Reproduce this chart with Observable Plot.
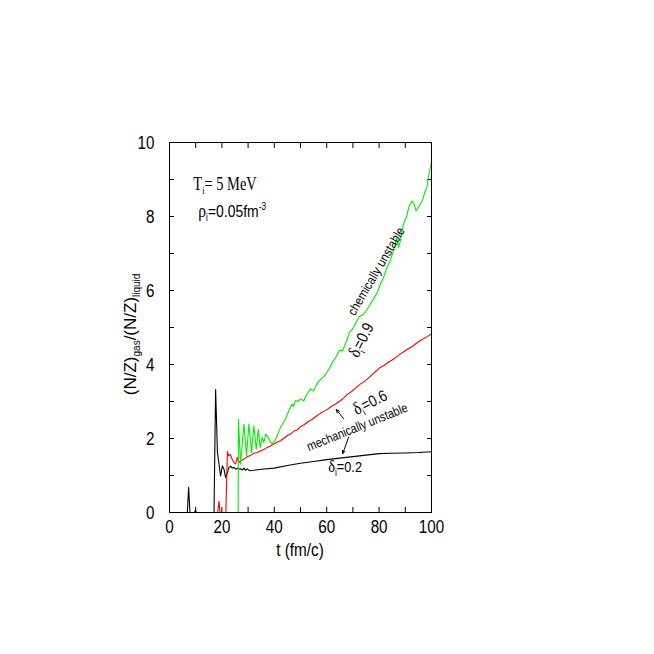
<!DOCTYPE html>
<html>
<head>
<meta charset="utf-8">
<script src="https://cdn.jsdelivr.net/npm/d3@7"></script>
<script src="https://cdn.jsdelivr.net/npm/@observablehq/plot@0.6"></script>
<style>
  body { margin: 0; background: #fff; }
  svg { display: block; }
</style>
</head>
<body>
<div id="chart"></div>
<script>
// ---- data ----
const blackT = [0, 6.8, 7.3, 7.8, 9.6, 9.9, 10.2, 17.0, 17.6, 18.3,
  18.9, 19.5, 20.2, 20.8, 21.4, 22.1, 22.7, 23.3, 24.0, 24.6,
  25.3, 26.0, 26.6, 27.1, 27.8, 28.4, 29.0, 29.7, 30.5, 32,
  35, 40, 45, 50, 55, 60, 65, 70, 75, 80,
  85, 90, 95, 100];
const blackV = [0, 0, 0.68, 0, 0, 0.06, 0, 0, 3.32, 1.62,
  1.31, 0.99, 1.26, 1.17, 0.95, 1.08, 1.22, 1.25, 1.2, 1.22,
  1.17, 1.2, 1.17, 1.18, 1.15, 1.2, 1.14, 1.18, 1.13, 1.14,
  1.17, 1.2, 1.27, 1.33, 1.38, 1.43, 1.47, 1.51, 1.55, 1.59,
  1.6, 1.61, 1.62, 1.64];

const redT = [0, 18.4, 18.9, 19.3, 19.6, 21.5, 22.1, 22.6, 23.2, 23.9,
  24.6, 25.2, 25.9, 26.5, 27.1, 27.8, 28.6, 29.7, 31, 32.2,
  33.5, 34.7, 36, 37.3, 38.5, 39.8, 41, 42.3, 43.5, 45,
  46.2, 47.5, 48.7, 50, 51.5, 53, 54.5, 56, 57.6, 59,
  60.5, 62, 63.5, 65.2, 66.5, 68, 69.5, 71, 72.8, 74.5,
  76, 77.5, 79, 80.4, 82, 83.5, 85, 86.5, 88, 89.5,
  91, 92.5, 94, 95.6, 97, 98.5, 100];
const redV = [0, 0, 0.3, 0, 0, 0, 1.65, 1.53, 1.57, 1.44,
  1.35, 1.31, 1.49, 1.35, 1.40, 1.42, 1.45, 1.51, 1.55, 1.6,
  1.62, 1.66, 1.7, 1.76, 1.8, 1.85, 1.9, 1.94, 2.0, 2.08,
  2.12, 2.2, 2.23, 2.32, 2.38, 2.46, 2.52, 2.6, 2.68, 2.74,
  2.8, 2.88, 2.94, 3.02, 3.1, 3.2, 3.27, 3.36, 3.47, 3.55,
  3.64, 3.74, 3.83, 3.92, 3.98, 4.06, 4.12, 4.2, 4.28, 4.35,
  4.42, 4.48, 4.56, 4.64, 4.7, 4.76, 4.83];

const greenT = [0, 26.2, 26.3, 27.1, 28.4, 29.4, 30.3, 31.3, 32.2, 33.1,
  33.9, 34.6, 35.4, 36.0, 36.7, 37.7, 38.6, 39.2, 40.5, 41.5,
  42.4, 43.3, 44.3,
  45.5, 46.2, 46.8, 47.4, 48.1, 49.0, 50.0, 51.3, 52.0, 52.6,
  53.8, 55.1, 56.0, 57.0, 58.0, 59.0, 60.0, 60.9, 62.2, 63.5,
  64.8, 66.1, 67.4, 68.7, 69.9, 71.2, 72.5, 73.5, 74.5, 75.5,
  76.6, 77.5, 78.5, 79.5, 80.4, 81.7, 83.0, 84.2, 85.5, 86.8,
  87.4, 88.1, 89.3, 90.5, 91.5, 91.9, 92.5, 93.3, 94.1, 95.0,
  95.7, 96.6, 97.6, 98.3, 98.8, 99.4, 100];
const greenV = [0, 0, 2.52, 1.31, 2.39, 1.53, 2.39, 1.62, 2.34, 1.71,
  2.25, 1.76, 2.03, 1.89, 2.12, 2.03, 1.89, 1.85, 1.98, 2.15,
  2.3, 2.42, 2.52,
  2.75, 2.85, 2.93, 2.87, 3.03, 3.0, 3.07, 3.02, 3.15, 3.21,
  3.34, 3.29, 3.45, 3.55, 3.62, 3.68, 3.78, 3.88, 4.06, 4.2,
  4.38, 4.38, 4.6, 4.87, 4.96, 5.14, 5.3, 5.33, 5.4, 5.5,
  5.63, 5.72, 5.85, 5.98, 6.17, 6.35, 6.62, 6.8, 7.07, 7.43,
  7.16, 7.34, 7.8, 8.0, 8.3, 8.33, 8.42, 8.35, 8.15, 8.25,
  8.33, 8.45, 8.69, 8.8, 9.05, 9.25, 9.5];

const seriesNames = ["delta0.2", "delta0.6", "delta0.9"];
const seriesColors = ["#000000", "#ff0000", "#00f000"];

const xTickValues = [0, 10, 20, 30, 40, 50, 60, 70, 80, 90, 100];
const yTickValues = [0, 1, 2, 3, 4, 5, 6, 7, 8, 9, 10];

// arrows (tail -> head) in data units
const arrowT1 = [66.5, 68.4];
const arrowV1 = [2.53, 2.04];
const arrowT2 = [63.7, 66.1];
const arrowV2 = [2.78, 1.59];

// ---- build table ----
const rows = [];
[[blackT, blackV], [redT, redV], [greenT, greenV]].forEach(([T, V], k) => {
  T.forEach((t, i) => rows.push({series: seriesNames[k], t, v: V[i]}));
});
const arrows = arrowT1.map((t, i) => ({t1: t, v1: arrowV1[i], t2: arrowT2[i], v2: arrowV2[i]}));

const FONT = "'Liberation Sans', Arial, Helvetica, sans-serif";
const SERIF = "'Liberation Serif', 'Times New Roman', serif";

const plot = Plot.plot({
  width: 654,
  height: 654,
  marginLeft: 169,
  marginRight: 223,
  marginTop: 142,
  marginBottom: 142,
  style: {fontFamily: FONT, color: "#000", background: "#fff"},
  x: {domain: [0, 100], label: null},
  y: {domain: [0, 10], label: null},
  color: {domain: seriesNames, range: seriesColors},
  marks: [
    Plot.axisX({ticks: xTickValues, tickSize: -5, tickPadding: 12, fontSize: 19,
      tickFormat: d => d % 20 === 0 ? String(d) : "", label: null}),
    Plot.axisX({anchor: "top", ticks: xTickValues, tickSize: -5, tickPadding: 0,
      tickFormat: () => "", label: null}),
    Plot.axisY({ticks: yTickValues, tickSize: -5, tickPadding: 20, fontSize: 19,
      tickFormat: d => d % 2 === 0 ? String(d) : "", label: null}),
    Plot.axisY({anchor: "right", ticks: yTickValues, tickSize: -5, tickPadding: 0,
      tickFormat: () => "", label: null}),
    Plot.line(rows, {x: "t", y: "v", z: "series", stroke: "series", strokeWidth: 1.1}),
    Plot.arrow(arrows, {x1: "t1", y1: "v1", x2: "t2", y2: "v2", stroke: "#000",
      strokeWidth: 1, headLength: 5, headAngle: 50}),
    Plot.frame({stroke: "#000", strokeWidth: 1})
  ]
});

document.getElementById("chart").appendChild(plot);

const svg = d3.select(plot);
// condense axis tick labels like the original figure
svg.selectAll("g[aria-label='x-axis tick label'] text, g[aria-label='y-axis tick label'] text")
  .attr("transform", function() { return (this.getAttribute("transform") || "") + " scale(0.8,1)"; });

const X = plot.scale("x");
const Y = plot.scale("y");
const px = t => X.apply(t);
const py = v => Y.apply(v);

// helper: rich text with tspans
function rich(x, y, angle, k, size, anchor, parts) {
  const txt = svg.append("text")
    .attr("transform", `translate(${x},${y}) rotate(${angle}) scale(${k},1)`)
    .attr("font-family", FONT)
    .attr("font-size", size)
    .attr("text-anchor", anchor)
    .attr("fill", "#000");
  parts.forEach(p => {
    const s = txt.append("tspan").text(p.s);
    if (p.dy) s.attr("dy", p.dy);
    if (p.size) s.attr("font-size", p.size);
    if (p.family) s.attr("font-family", p.family);
  });
  return txt;
}

// axis titles
rich(px(50), 556, 0, 0.85, 18, "middle", [{s: "t (fm/c)"}]);
rich(136, py(4.8), -90, 1, 17, "middle", [
  {s: "(N/Z)"}, {s: "gas", dy: 4, size: 10}, {s: "/(N/Z)", dy: -4},
  {s: "liquid", dy: 4, size: 10}
]);

// parameter labels
rich(px(9.3), py(8.70), 0, 0.76, 19, "start", [
  {s: "T", family: SERIF}, {s: "i", dy: 4, size: 11, family: SERIF},
  {s: "= 5 MeV", dy: -4, family: SERIF}
]);
rich(px(11.2), py(7.97), 0, 0.82, 17, "start", [
  {s: "ρ", family: SERIF, size: 19}, {s: "i", dy: 4, size: 10},
  {s: "=0.05fm", dy: -4}, {s: "-3", dy: -7, size: 10}
]);

// curve annotations (centres given in data units)
function centred(t, v, angle, k, size, parts) {
  const t0 = rich(px(t), py(v), angle, k, size, "middle", parts);
  t0.attr("transform", `translate(${px(t)},${py(v)}) rotate(${angle}) translate(0,${0.35 * size}) scale(${k},1)`);
}
centred(79.0, 6.51, -59.6, 0.88, 13, [{s: "chemically unstable"}]);
centred(73.3, 4.65, -63, 0.85, 16, [
  {s: "δ", family: SERIF, size: 18}, {s: "i", dy: 4, size: 10}, {s: "=0.9", dy: -4}
]);
centred(76.7, 2.97, -27, 0.85, 16, [
  {s: "δ", family: SERIF, size: 18}, {s: "i", dy: 4, size: 10}, {s: "=0.6", dy: -4}
]);
centred(71.8, 2.30, -22, 0.84, 13, [{s: "mechanically unstable"}]);
centred(67.2, 1.22, 0, 0.85, 15, [
  {s: "δ", family: SERIF, size: 17}, {s: "i", dy: 4, size: 10}, {s: "=0.2", dy: -4}
]);
</script>
</body>
</html>
